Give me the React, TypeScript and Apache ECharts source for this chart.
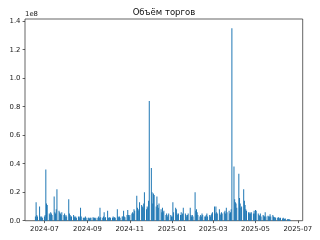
import { useEffect, useRef } from "react";
import * as echarts from "echarts";

const chartTitle = "Объём торгов";
const offsetText = "1e8";
const xTickDates = ["2024-07-01", "2024-09-01", "2024-11-01", "2025-01-01", "2025-03-01", "2025-05-01", "2025-07-01"];
const xTickLabels = ["2024-07", "2024-09", "2024-11", "2025-01", "2025-03", "2025-05", "2025-07"];
const yTickValues = [0, 0.2, 0.4, 0.6, 0.8, 1.0, 1.2, 1.4]; // ×1e8
const axisStart = "2024-06-03";
const axisEnd = "2025-07-08";
const yMax = 1.415; // ×1e8

// daily (weekday) trading volume, millions
const jun2024 = [3, 13, 4, 3, 10, 3, 2, 3, 2];
const jul2024 = [3, 4, 36, 12, 11, 5, 4, 6, 5, 4, 17, 6, 5, 8, 22, 7, 6, 5, 4, 6, 4, 5, 3];
const aug2024 = [4, 3, 15, 5, 4, 3, 3, 4, 3, 2, 3, 2, 3, 2, 3, 9, 3, 2, 2, 2, 3, 2];
const sep2024 = [2, 2, 1.5, 2, 2, 2.5, 2, 2, 1.5, 2, 2, 3, 2, 9, 2.5, 2, 3, 6, 2, 2.5, 7];
const oct2024 = [2, 2, 2.5, 2, 2, 3, 2, 2.5, 2, 8, 3, 2.5, 3, 2, 3, 3, 7, 3, 2.5, 4, 7.5, 4, 3];
const nov2024 = [4, 5, 6, 5, 8, 7, 17.5, 9, 8, 7, 13, 11, 10, 9, 12, 20, 8, 10, 9, 14, 84];
const dec2024 = [37, 20, 12, 19, 18, 10, 17, 11, 9, 12, 8, 6, 9, 6, 7, 4, 5, 3, 4, 5, 4, 3];
const jan2025 = [3, 13, 6, 9, 8, 5, 4, 5, 4, 6, 4, 5, 9, 5, 4, 3, 4, 5, 9, 4, 3, 4, 3];
const feb2025 = [20, 7, 8, 6, 4, 3, 4, 3, 5, 4, 3, 3, 4, 5, 3, 4, 3, 4, 5, 6];
const mar2025 = [10, 5, 10, 6, 5, 8, 5, 4, 6, 5, 6, 7, 5, 9, 6, 7, 5, 6, 8, 135, 38];
const apr2025 = [15, 13, 12, 9, 33, 16, 12, 9, 10, 22, 14, 11, 8, 7, 6, 5, 6, 5, 6, 5, 7, 5];
const may2025 = [7.5, 7, 5, 4, 3.5, 5, 3, 4, 3.5, 3, 6, 3, 3.5, 3, 3, 4.5, 3, 4, 3, 2.5, 2.5, 2];
const jun2025 = [2, 2.5, 2, 1.5, 2, 1.5, 2, 1.5, 1.2, 1.5, 1, 1.2, 1, 0.8, 0.6];

const monthBlocks: [number, number, number, number[]][] = [
  [2024, 6, 18, jun2024],
  [2024, 7, 1, jul2024],
  [2024, 8, 1, aug2024],
  [2024, 9, 1, sep2024],
  [2024, 10, 1, oct2024],
  [2024, 11, 1, nov2024],
  [2024, 12, 1, dec2024],
  [2025, 1, 1, jan2025],
  [2025, 2, 1, feb2025],
  [2025, 3, 1, mar2025],
  [2025, 4, 1, apr2025],
  [2025, 5, 1, may2025],
  [2025, 6, 1, jun2025],
];

function parseUTC(s: string): number {
  const [y, m, d] = s.split("-").map(Number);
  return Date.UTC(y, m - 1, d);
}

function monthWeekdays(y: number, m: number, fromDay: number, n: number): number[] {
  const out: number[] = [];
  let d = fromDay;
  while (out.length < n) {
    const t = Date.UTC(y, m - 1, d);
    const wd = new Date(t).getUTCDay();
    if (wd !== 0 && wd !== 6) out.push(t);
    d++;
  }
  return out;
}

export default function App() {
  const ref = useRef<HTMLDivElement>(null);
  useEffect(() => {
    if (!ref.current) return;
    const chart = echarts.init(ref.current, undefined, { renderer: "svg" });
    const data: [number, number][] = [];
    for (const [y, m, from, vals] of monthBlocks) {
      const days = monthWeekdays(y, m, from, vals.length);
      vals.forEach((v, i) => data.push([days[i], v * 1e6]));
    }
    const xTicks = xTickDates.map(parseUTC);
    const yTicks = yTickValues.map((v) => v * 1e8);
    const font = "DejaVu Sans";
    chart.setOption({
      animation: false,
      grid: {
        left: 25,
        right: 17.3,
        top: 19,
        bottom: 19.3,
        show: true,
        borderColor: "#222",
        borderWidth: 0.7,
        backgroundColor: "transparent",
      },
      xAxis: {
        type: "value",
        min: parseUTC(axisStart),
        max: parseUTC(axisEnd),
        axisLine: { show: false },
        splitLine: { show: false },
        axisTick: { show: true, customValues: xTicks, length: 2.4, lineStyle: { color: "#222", width: 0.7 } },
        axisLabel: {
          customValues: xTicks,
          formatter: (v: number) => {
            const i = xTicks.indexOf(v);
            return i >= 0 ? xTickLabels[i] : "";
          },
          fontSize: 6.9,
          color: "#222",
          fontFamily: font,
          margin: 4.5,
          hideOverlap: false,
        },
      },
      yAxis: {
        type: "value",
        min: 0,
        max: yMax * 1e8,
        axisLine: { show: false },
        splitLine: { show: false },
        axisTick: { show: true, customValues: yTicks, length: 2.4, lineStyle: { color: "#222", width: 0.7 } },
        axisLabel: {
          customValues: yTicks,
          formatter: (v: number) => (v / 1e8).toFixed(1),
          fontSize: 6.9,
          color: "#222",
          fontFamily: font,
          margin: 4.5,
        },
      },
      series: [
        {
          type: "bar",
          data,
          barWidth: 0.55,
          itemStyle: { color: "#1f77b4" },
        },
      ],
      graphic: [
        {
          type: "text",
          x: 163.9,
          y: 11.7,
          style: {
            text: chartTitle,
            fontSize: 8.5,
            fontFamily: font,
            fill: "#111",
            textAlign: "center",
            textVerticalAlign: "middle",
          },
        },
        {
          type: "text",
          x: 25,
          y: 13.5,
          style: {
            text: offsetText,
            fontSize: 6.9,
            fontFamily: font,
            fill: "#222",
            textAlign: "left",
            textVerticalAlign: "middle",
          },
        },
      ],
    });
    return () => chart.dispose();
  }, []);
  return <div ref={ref} style={{ position: "fixed", left: 0, top: 0, width: 320, height: 240 }} />;
}
